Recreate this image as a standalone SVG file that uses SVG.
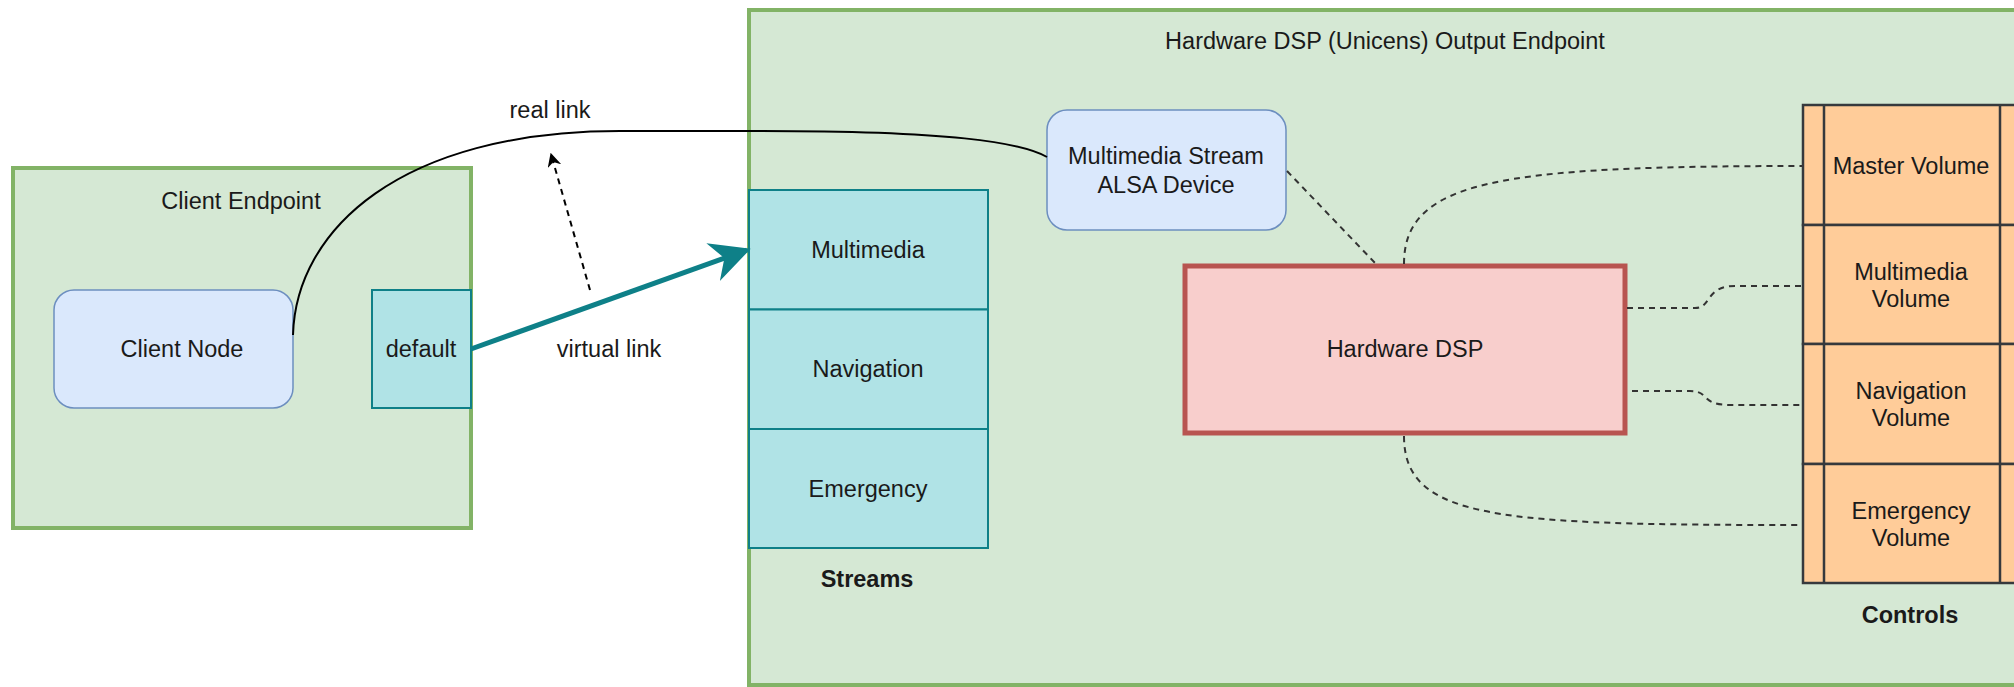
<svg xmlns="http://www.w3.org/2000/svg" width="2014" height="687" viewBox="0 0 2014 687">
<style>
text{font-family:"Liberation Sans",Arial,sans-serif;font-size:23.5px;fill:#1a1a1a;text-anchor:middle;dominant-baseline:central}
.b{font-weight:bold}
.grp{fill:#d5e8d4;stroke:#82b366;stroke-width:4}
.blue{fill:#dae8fc;stroke:#6c8ebf;stroke-width:1.5}
.teal{fill:#b0e3e6;stroke:#0e8088;stroke-width:2}
.red{fill:#f8cecc;stroke:#b85450;stroke-width:5}
.orange{fill:#ffcc99;stroke:#36393d;stroke-width:2.5}
.dash{fill:none;stroke:#333;stroke-width:2;stroke-dasharray:6 5}
</style>
<defs>
<marker id="ah" viewBox="0 0 10 10" refX="9" refY="5" markerWidth="14" markerHeight="14" markerUnits="userSpaceOnUse" orient="auto"><path d="M0 0 L10 5 L0 10 L3 5 Z" fill="#000"/></marker>
<marker id="ah2" viewBox="0 0 10 10" refX="9" refY="5" markerWidth="8" markerHeight="8" orient="auto"><path d="M0 0 L10 5 L0 10 L3 5 Z" fill="#0e8088"/></marker>
</defs>
<rect width="2014" height="687" fill="#fff"/>
<g id="client-endpoint">
<rect class="grp" x="13" y="168" width="458" height="360"/>
<text x="241" y="201">Client Endpoint</text>
</g>
<g id="output-endpoint">
<rect class="grp" x="749" y="10" width="1290" height="675"/>
<text x="1385" y="41">Hardware DSP (Unicens) Output Endpoint</text>
</g>
<g id="client-node">
<rect class="blue" x="54" y="290" width="239" height="118" rx="20"/>
<text x="182" y="349">Client Node</text>
</g>
<g id="default">
<rect class="teal" x="372" y="290" width="99" height="118"/>
<text x="421" y="349">default</text>
</g>
<g id="streams">
<rect class="teal" x="749" y="190" width="239" height="119.5"/>
<rect class="teal" x="749" y="309.5" width="239" height="119.5"/>
<rect class="teal" x="749" y="429" width="239" height="119"/>
<text x="868" y="250">Multimedia</text>
<text x="868" y="369">Navigation</text>
<text x="868" y="489">Emergency</text>
<text class="b" x="867" y="579">Streams</text>
</g>
<g id="alsa-device">
<rect class="blue" x="1047" y="110" width="239" height="120" rx="20"/>
<text x="1166" y="156">Multimedia Stream</text>
<text x="1166" y="185">ALSA Device</text>
</g>
<g id="hardware-dsp">
<rect class="red" x="1185" y="266" width="440" height="167"/>
<text x="1405" y="349">Hardware DSP</text>
</g>
<g id="controls">
<rect class="orange" x="1803" y="105" width="240" height="120"/>
<rect class="orange" x="1803" y="225" width="240" height="119"/>
<rect class="orange" x="1803" y="344" width="240" height="120"/>
<rect class="orange" x="1803" y="464" width="240" height="119"/>
<line x1="1824" y1="105" x2="1824" y2="583" stroke="#36393d" stroke-width="2.5"/>
<line x1="2000" y1="105" x2="2000" y2="583" stroke="#36393d" stroke-width="2.5"/>
<text x="1911" y="166">Master Volume</text>
<text x="1911" y="272">Multimedia</text>
<text x="1911" y="299">Volume</text>
<text x="1911" y="391">Navigation</text>
<text x="1911" y="418">Volume</text>
<text x="1911" y="511">Emergency</text>
<text x="1911" y="538">Volume</text>
<text class="b" x="1910" y="615">Controls</text>
</g>
<g id="connectors">
<path d="M293 335 C296 230 400 131 620 131 L760 131 C950 131 1020 142 1047 157" fill="none" stroke="#000" stroke-width="2"/>
<text x="550" y="110">real link</text>
<path d="M590 290 L551 154" fill="none" stroke="#000" stroke-width="2" stroke-dasharray="6 5" marker-end="url(#ah)"/>
<path d="M471 349 L747 250" fill="none" stroke="#0e8088" stroke-width="5" marker-end="url(#ah2)"/>
<text x="609" y="349">virtual link</text>
<path class="dash" d="M1287 171 L1376 264"/>
<path class="dash" d="M1404 264 C1404 180 1500 166 1802 166"/>
<path class="dash" d="M1627 308 L1695 308 C1712 308 1705 286 1735 286 L1802 286"/>
<path class="dash" d="M1632 391 L1690 391 C1710 391 1700 405 1730 405 L1802 405"/>
<path class="dash" d="M1404 436 C1404 520 1500 525 1802 525"/>
</g>
</svg>
